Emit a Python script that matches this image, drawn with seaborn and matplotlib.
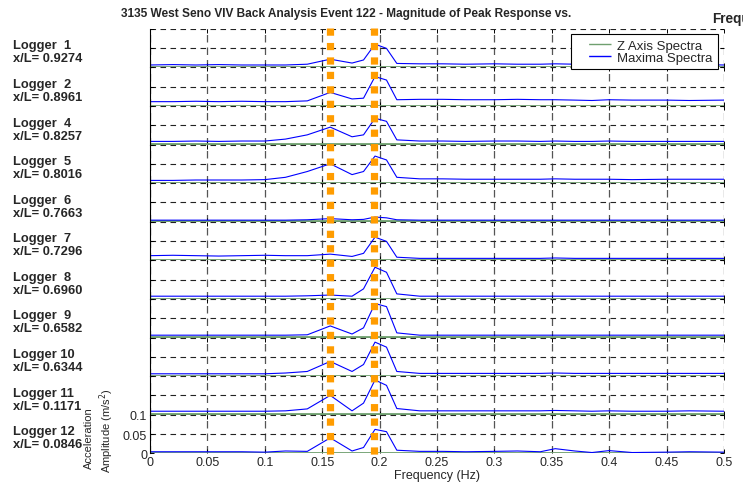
import numpy as np
import pandas as pd
import matplotlib
matplotlib.use('Agg')
import matplotlib.pyplot as plt
import matplotlib.transforms as mtransforms
from matplotlib.lines import Line2D
import seaborn as sns

# frequency points (Hz)
freq = [0.0, 0.02, 0.04, 0.06, 0.08, 0.1, 0.118, 0.137, 0.157, 0.176, 0.186, 0.196, 0.206, 0.215,
        0.235, 0.255, 0.275, 0.3, 0.32, 0.34, 0.353, 0.37, 0.385, 0.4, 0.42, 0.45, 0.47, 0.5]

loggers = ['Logger  1', 'Logger  2', 'Logger  4', 'Logger  5', 'Logger  6', 'Logger  7',
           'Logger  8', 'Logger  9', 'Logger 10', 'Logger 11', 'Logger 12']
x_over_l = ['0.9274', '0.8961', '0.8257', '0.8016', '0.7663', '0.7296',
            '0.6960', '0.6582', '0.6344', '0.1171', '0.0846']

# Z axis spectra (nearly flat at zero)
z_axis = [0.001, 0.001, 0.001, 0.001, 0.001, 0.001, 0.001, 0.001, 0.001, 0.001, 0.001, 0.001, 0.001, 0.001,
          0.001, 0.001, 0.001, 0.001, 0.001, 0.001, 0.001, 0.001, 0.001, 0.001, 0.001, 0.001, 0.001, 0.001]

# Maxima spectra, one list per logger
max_1 = [0.006, 0.007, 0.006, 0.007, 0.006, 0.006, 0.006, 0.008, 0.021, 0.011, 0.019, 0.060, 0.049, 0.010,
         0.009, 0.009, 0.008, 0.009, 0.008, 0.008, 0.009, 0.008, 0.008, 0.008, 0.007, 0.007, 0.007, 0.006]
max_2 = [0.011, 0.011, 0.012, 0.011, 0.012, 0.011, 0.011, 0.013, 0.035, 0.018, 0.020, 0.076, 0.067, 0.016,
         0.017, 0.017, 0.016, 0.016, 0.017, 0.016, 0.016, 0.015, 0.014, 0.016, 0.015, 0.015, 0.014, 0.015]
max_4 = [0.008, 0.008, 0.009, 0.008, 0.009, 0.009, 0.014, 0.025, 0.045, 0.020, 0.025, 0.068, 0.060, 0.012,
         0.009, 0.009, 0.008, 0.009, 0.009, 0.008, 0.009, 0.008, 0.008, 0.009, 0.008, 0.008, 0.008, 0.008]
max_5 = [0.007, 0.007, 0.008, 0.008, 0.008, 0.009, 0.015, 0.030, 0.050, 0.022, 0.030, 0.070, 0.060, 0.015,
         0.011, 0.011, 0.010, 0.010, 0.010, 0.010, 0.011, 0.010, 0.010, 0.010, 0.009, 0.010, 0.010, 0.010]
max_6 = [0.004, 0.004, 0.004, 0.004, 0.004, 0.004, 0.004, 0.005, 0.008, 0.005, 0.006, 0.012, 0.010, 0.005,
         0.004, 0.004, 0.004, 0.004, 0.004, 0.004, 0.004, 0.004, 0.004, 0.004, 0.004, 0.004, 0.004, 0.004]
max_7 = [0.012, 0.013, 0.012, 0.011, 0.012, 0.013, 0.012, 0.012, 0.016, 0.010, 0.018, 0.060, 0.049, 0.008,
         0.005, 0.005, 0.005, 0.005, 0.005, 0.005, 0.006, 0.005, 0.005, 0.005, 0.005, 0.005, 0.005, 0.005]
max_8 = [0.007, 0.007, 0.007, 0.007, 0.007, 0.007, 0.007, 0.008, 0.010, 0.007, 0.026, 0.082, 0.069, 0.013,
         0.007, 0.007, 0.007, 0.007, 0.007, 0.007, 0.007, 0.007, 0.007, 0.007, 0.007, 0.007, 0.007, 0.007]
max_9 = [0.006, 0.006, 0.006, 0.006, 0.006, 0.006, 0.006, 0.007, 0.030, 0.009, 0.025, 0.088, 0.080, 0.012,
         0.006, 0.006, 0.006, 0.006, 0.006, 0.006, 0.006, 0.006, 0.006, 0.006, 0.006, 0.006, 0.006, 0.006]
max_10 = [0.006, 0.006, 0.006, 0.006, 0.006, 0.006, 0.008, 0.012, 0.038, 0.012, 0.030, 0.088, 0.075, 0.012,
          0.007, 0.007, 0.007, 0.007, 0.007, 0.007, 0.008, 0.007, 0.007, 0.007, 0.007, 0.007, 0.007, 0.007]
max_11 = [0.009, 0.009, 0.009, 0.009, 0.009, 0.009, 0.010, 0.015, 0.050, 0.010, 0.030, 0.090, 0.076, 0.016,
          0.010, 0.010, 0.010, 0.010, 0.010, 0.010, 0.011, 0.010, 0.009, 0.010, 0.009, 0.009, 0.010, 0.009]
max_12 = [0.004, 0.004, 0.004, 0.004, 0.004, 0.003, 0.006, 0.005, 0.040, 0.006, 0.015, 0.062, 0.056, 0.008,
          0.005, 0.005, 0.004, 0.005, 0.006, 0.004, 0.012, 0.006, 0.002, 0.007, 0.002, 0.003, 0.004, 0.003]
maxima = [max_1, max_2, max_4, max_5, max_6, max_7, max_8, max_9, max_10, max_11, max_12]

# marked frequencies (orange dotted lines)
marker_freqs = [0.157, 0.195]

x_ticks = [0, 0.05, 0.1, 0.15, 0.2, 0.25, 0.3, 0.35, 0.4, 0.45, 0.5]
x_tick_labels = ['0', '0.05', '0.1', '0.15', '0.2', '0.25', '0.3', '0.35', '0.4', '0.45', '0.5']
y_ticks = [0, 0.05, 0.1]
y_tick_labels = ['0', '0.05', '0.1']

sns.set_style('white')
plt.rcParams['font.family'] = ['Liberation Sans', 'DejaVu Sans']
plt.rcParams['font.size'] = 9

W, H = 743, 485
fig = plt.figure(figsize=(W / 100, H / 100), dpi=100)

z_color = '#6f9f6f'
m_color = '#0000ff'

left, right = 150 / W, 724 / W
panel_h = 38.6 / H
bottom0 = 1 - 454.3 / H
n = len(loggers)

axes = []
for i in range(n):
    b = bottom0 + (n - 1 - i) * panel_h
    ax = fig.add_axes([left, b, right - left, panel_h])
    axes.append(ax)

for i, ax in enumerate(axes):
    df = pd.DataFrame({'f': freq, 'z': z_axis, 'm': maxima[i]})
    sns.lineplot(data=df, x='f', y='z', ax=ax, color=z_color, lw=2.0, legend=False)
    sns.lineplot(data=df, x='f', y='m', ax=ax, color=m_color, lw=0.8, legend=False)
    ax.set_xlim(0, 0.5)
    ax.set_ylim(0, 0.1)
    ax.set_xticks(x_ticks)
    ax.set_yticks(y_ticks)
    ax.grid(True, color='#222222', linestyle=(0, (5, 4)), lw=0.8)
    ax.xaxis.grid(True, color='#555555', linestyle=(0, (6, 4)), lw=0.9)
    ax.set_facecolor('none')
    for s in ['top', 'right', 'bottom']:
        ax.spines[s].set_visible(False)
    ax.spines['left'].set_color('black')
    ax.spines['left'].set_linewidth(0.8)
    ax.tick_params(axis='both', direction='in', length=3, width=0.7, color='black',
                   top=True, bottom=True, left=True, right=True, pad=2, labelsize=9)
    ax.set_xlabel('')
    ax.set_ylabel('')
    if i < n - 1:
        ax.set_xticklabels([])
        ax.set_yticklabels([])
    else:
        ax.set_xticklabels(x_tick_labels)
        ax.set_yticklabels(y_tick_labels)
        ax.set_xlabel('Frequency (Hz)', fontsize=9, labelpad=1)

    # logger labels
    base_px = 68.3 + 38.6 * i
    fig.text(13 / W, 1 - (base_px - 22) / H, loggers[i], fontsize=9.3, fontweight='bold', va='center', ha='left')
    fig.text(13 / W, 1 - (base_px - 9) / H, 'x/L= ' + x_over_l[i], fontsize=9.3, fontweight='bold',
             va='center', ha='left')

# orange dotted vertical markers spanning all panels
trans = mtransforms.blended_transform_factory(axes[-1].transData, fig.transFigure)
for fx in marker_freqs:
    ln = Line2D([fx, fx], [1 - 28.5 / H, 1 - 456 / H], transform=trans, color='#ff9c00',
                lw=5.2, dashes=(1, 1), solid_capstyle='butt', dash_capstyle='butt', zorder=10)
    fig.add_artist(ln)

# legend (handle drawn with a leading gap like the original)
handle_style = (16.6, (16.6, 9.1))
handles = [Line2D([], [], color=z_color, lw=1.0, linestyle=handle_style),
           Line2D([], [], color=m_color, lw=1.0, linestyle=handle_style)]
leg = fig.legend(handles, ['Z Axis Spectra', 'Maxima Spectra'], loc='upper right',
                 bbox_to_anchor=(718 / W, 1 - 35 / H), bbox_transform=fig.transFigure,
                 fancybox=False, framealpha=1, edgecolor='black', fontsize=9.5,
                 handlelength=2.7, borderpad=0.4, labelspacing=0.0, handletextpad=0.45, borderaxespad=0)
leg.get_frame().set_linewidth(0.8)

# y label (two lines)
fig.text(89 / W, 1 - 438 / H, 'Acceleration', rotation=90, ha='center', va='center', fontsize=8)
fig.text(107 / W, 1 - 431 / H, 'Amplitude (m/s$^2$)', rotation=90, ha='center', va='center', fontsize=8)

# title
fig.text(346 / W, 1 - 14 / H, '3135 West Seno VIV Back Analysis Event 122 - Magnitude of Peak Response vs.',
         ha='center', va='center', fontsize=8.6, fontweight='bold')
fig.text(712 / W, 1 - 19 / H, 'Frequency', ha='left', va='center', fontsize=9.8, fontweight='bold')

fig.savefig('out.png', dpi=100)
